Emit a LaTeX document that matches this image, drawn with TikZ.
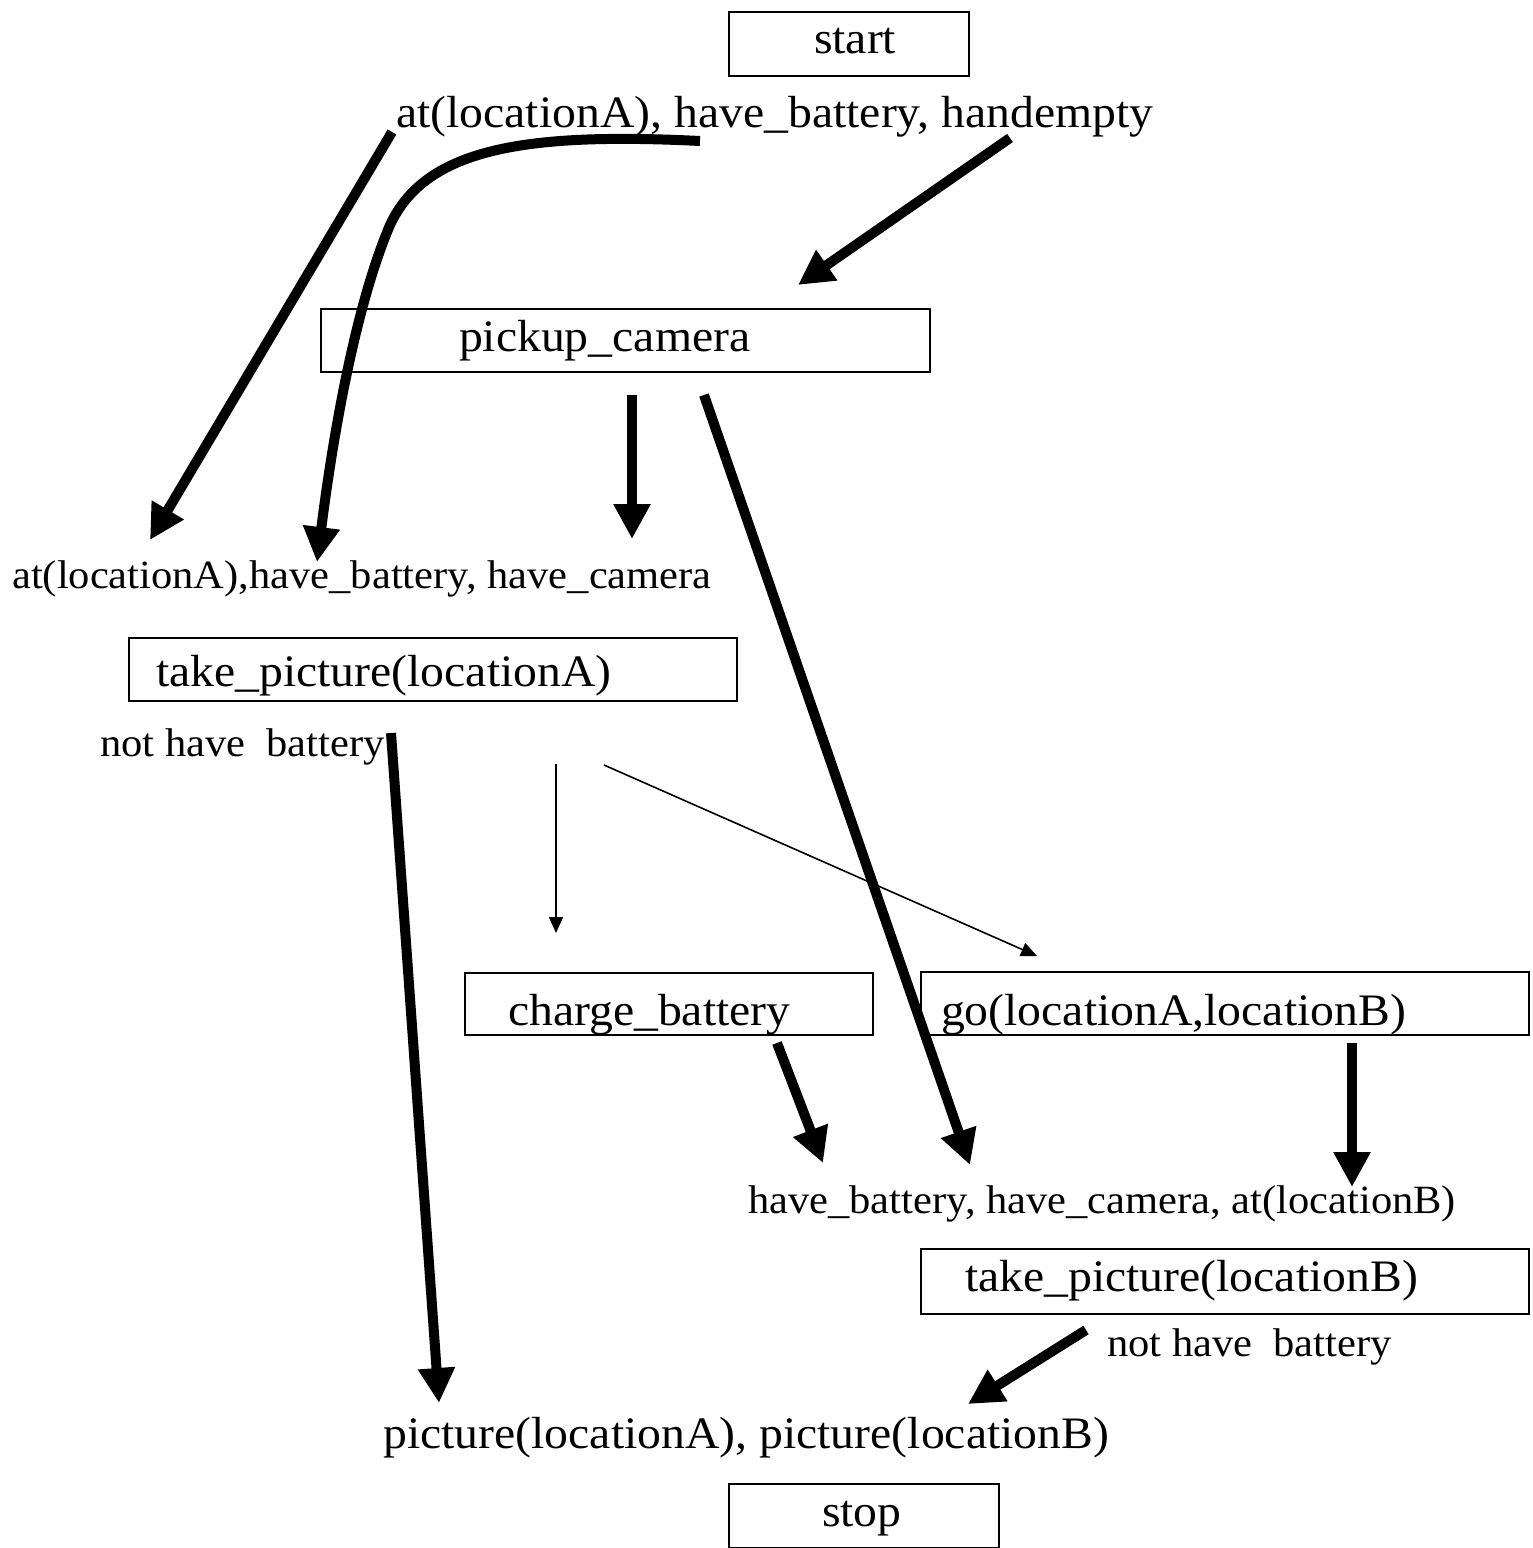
\documentclass[tikz,border=0pt]{standalone}
\usepackage{fontspec}
\setmainfont{Liberation Serif}[FakeStretch=1.06]
\usetikzlibrary{arrows.meta}
\newcommand{\bigtxt}{\fontsize{45}{52}\selectfont}
\newcommand{\smalltxt}{\fontsize{40.1}{48}\selectfont}
\begin{document}
\begin{tikzpicture}[x=1pt,y=-1pt,
  boxnode/.style={draw, line width=2pt, anchor=north west, inner sep=0pt, align=left, font=\bigtxt},
  bigtext/.style={anchor=base west, inner sep=0pt, font=\bigtxt},
  smalltext/.style={anchor=base west, inner sep=0pt, font=\smalltxt},
  thickarr/.style={line width=10pt, -{Triangle[length=35pt,width=35pt]}},
  thinarr/.style={line width=1.6pt, -{Triangle[length=16pt,width=14pt]}}]

\useasboundingbox (0,0) rectangle (1533,1548);

% boxes (actions)
\node[boxnode, minimum width=240pt, minimum height=64pt, text width=240pt, text height=32pt, text depth=12.6pt] (start) at (728,11) {\hspace*{85pt}start};
\node[boxnode, minimum width=609pt, minimum height=63pt, text width=609pt, text height=32pt, text depth=11pt] (pickup) at (320,308) {\hspace*{138pt}pickup\_camera};
\node[boxnode, minimum width=608pt, minimum height=63pt, text width=608pt, text height=40pt, text depth=7pt] (takeA) at (128,637) {\hspace*{27pt}take\_picture(locationA)};
\node[boxnode, minimum width=408pt, minimum height=62pt, text width=408pt, text height=45pt, text depth=3pt] (charge) at (464,972) {\hspace*{43pt}charge\_battery};
\node[boxnode, minimum width=608pt, minimum height=63pt, text width=608pt, text height=46pt, text depth=3pt] (go) at (920,971) {\hspace*{20pt}go(locationA,locationB)};
\node[boxnode, minimum width=608pt, minimum height=65pt, text width=608pt, text height=32pt, text depth=13pt] (takeB) at (920,1248) {\hspace*{44pt}take\_picture(locationB)};
\node[boxnode, minimum width=270pt, minimum height=64pt, text width=270pt, text height=32pt, text depth=12pt] (stop) at (728,1483) {\hspace*{93pt}stop};

% state texts
\node[bigtext] (init) at (396,127) {at(locationA), have\_battery, handempty};
\node[smalltext] (s1) at (12,588) {at(locationA),have\_battery, have\_camera};
\node[smalltext] (nb1) at (100,756) {not have\ \ battery};
\node[smalltext] (s2) at (748,1213) {have\_battery, have\_camera, at(locationB)};
\node[smalltext] (nb2) at (1107,1356) {not have\ \ battery};
\node[bigtext] (goal) at (383,1448) {picture(locationA), picture(locationB)};

% connector end points
\coordinate (a1) at (392,132);   \coordinate (a2) at (150,540);
\coordinate (b1) at (700,141);   \coordinate (b2) at (317,562);
\coordinate (c1) at (1010,138);  \coordinate (c2) at (798,285);
\coordinate (d1) at (632,395);   \coordinate (d2) at (632,539);
\coordinate (e1) at (704,395);   \coordinate (e2) at (970,1165);
\coordinate (f1) at (391,733);   \coordinate (f2) at (439,1403);
\coordinate (t1) at (556,764);   \coordinate (t2) at (556,933);
\coordinate (u1) at (604,765);   \coordinate (u2) at (1037,956);
\coordinate (g1) at (777,1043);  \coordinate (g2) at (823,1163);
\coordinate (h1) at (1352,1043); \coordinate (h2) at (1352,1187);
\coordinate (i1) at (1086,1330); \coordinate (i2) at (968,1404);

% connectors
\draw[thickarr] (a1) -- (a2);
\draw[thickarr] (b1) .. controls (520,132) and (425,150) .. (390,225) .. controls (358,300) and (335,420) .. (b2);
\draw[thickarr] (c1) -- (c2);
\draw[thickarr] (d1) -- (d2);
\draw[thickarr] (e1) -- (e2);
\draw[thickarr] (f1) -- (f2);
\draw[thinarr] (t1) -- (t2);
\draw[thinarr] (u1) -- (u2);
\draw[thickarr] (g1) -- (g2);
\draw[thickarr] (h1) -- (h2);
\draw[thickarr] (i1) -- (i2);
\end{tikzpicture}
\end{document}
